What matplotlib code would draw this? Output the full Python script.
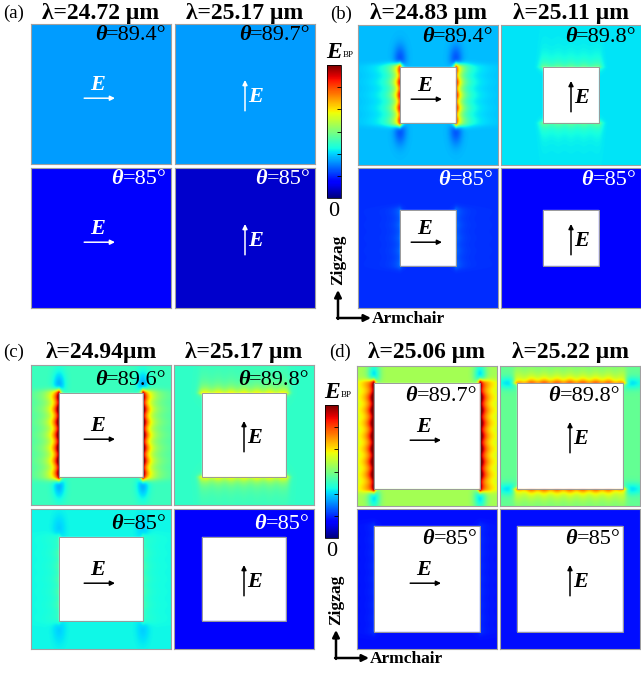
import matplotlib.pyplot as plt
import numpy as np
from matplotlib.patches import Rectangle
from matplotlib.cm import ScalarMappable
from matplotlib.colors import Normalize

plt.rcParams['font.family'] = 'Liberation Serif'

W, H = 641, 674

panel_tags = ["(a)", "(b)", "(c)", "(d)"]
wavelengths = [["λ=24.72 μm", "λ=25.17 μm"],
               ["λ=24.83 μm", "λ=25.11 μm"],
               ["λ=24.94μm", "λ=25.17 μm"],
               ["λ=25.06 μm", "λ=25.22 μm"]]
# cells in each panel: top-left, top-right, bottom-left, bottom-right
thetas = [["89.4", "89.7", "85", "85"],
          ["89.4", "89.8", "85", "85"],
          ["89.6", "89.8", "85", "85"],
          ["89.7", "89.8", "85", "85"]]

# |E| on a 0-1 scale: far-field level, gain at the hot faces, dip at the corners
background = [[0.28, 0.28, 0.11, 0.07],
              [0.31, 0.35, 0.17, 0.12],
              [0.42, 0.41, 0.37, 0.11],
              [0.55, 0.47, 0.14, 0.14]]
edge_gain = [[0.0, 0.0, 0.0, 0.0],
             [0.60, 0.12, 0.06, 0.0],
             [0.68, 0.24, 0.07, 0.0],
             [0.58, 0.34, 0.03, 0.0]]
corner_dip = [[0.0, 0.0, 0.0, 0.0],
              [0.10, 0.0, 0.0, 0.0],
              [0.12, 0.0, 0.04, 0.0],
              [0.20, 0.12, 0.0, 0.0]]
# side of the BP square relative to the unit cell
hole_size = [0.0, 0.4, 0.6, 0.76]

# white text on the dark cells
theta_white = [[False, False, True, True],
               [False, False, True, True],
               [False, False, False, True],
               [False, False, False, False]]
arrow_white = [True, False, False, False]

# layout in pixels: cell column lefts, row tops
cell = 140
col_x = [[31, 175], [358, 501], [31, 174], [357, 500]]
row_y = [[24, 168], [25, 168], [365, 509], [366, 509]]
title_y = [13, 14, 352, 352]
theta_pos = [(0.97, 0.92), (0.97, 0.91), (0.97, 0.89), (0.86, 0.78)]


def fx(x):
    return x / W


def fy(y):
    return 1 - y / H


def make_field(bg, gain, dip, half, hot_x, n=280):
    c = np.linspace(-1, 1, n)
    X, Y = np.meshgrid(c, c)
    A, B = (X, Y) if hot_x else (Y, X)
    s = np.abs(A) - half
    db = np.clip(np.abs(B) - half, 0, None)
    ripple = 1 + 0.1 * np.cos(B * 34)
    # strong decay away from the hot faces, fast fall-off past the corners
    prof = np.where(s >= 0,
                    0.7 * np.exp(-np.abs(s) / 0.07) + 0.3 * np.exp(-np.abs(s) / 0.22),
                    np.exp(-np.abs(s) / 0.03))
    hot = gain * prof * np.exp(-(db / 0.06) ** 2) * ripple
    cold = dip * np.exp(-s ** 2 / 0.008 - (np.abs(B) - half - 0.12) ** 2 / 0.04)
    Z = np.clip(bg + hot - cold, 0, 1)
    if half > 0:
        Z[(np.abs(X) < half) & (np.abs(Y) < half)] = np.nan
    return Z


cmap = plt.get_cmap('jet').copy()
cmap.set_bad('white')

fig = plt.figure(figsize=(W / 100, H / 100), dpi=100)

for p in range(4):
    half = hole_size[p]
    ink = 'white' if arrow_white[p] else 'black'
    for k in range(4):
        r, c = divmod(k, 2)
        x0, y0 = col_x[p][c], row_y[p][r]
        ax = fig.add_axes([fx(x0), fy(y0 + cell), cell / W, cell / H])
        Z = make_field(background[p][k], edge_gain[p][k], corner_dip[p][k], half, c == 0)
        ax.imshow(Z, cmap=cmap, vmin=0, vmax=1, extent=(-1, 1, -1, 1),
                  origin='lower', interpolation='bilinear')
        if half > 0:
            ax.add_patch(Rectangle((-half, -half), 2 * half, 2 * half, fill=False,
                                   ec='#9a9a9a', lw=0.7))
        ax.set_xticks([])
        ax.set_yticks([])
        for sp in ax.spines.values():
            sp.set_color('#a0a0a0')
            sp.set_linewidth(0.8)

        # angle label: bold italic theta followed by the value
        tcol = 'white' if theta_white[p][k] else 'black'
        tx, ty = theta_pos[p]
        val = ax.text(tx, ty, "=" + thetas[p][k] + "°", transform=ax.transAxes,
                      ha='right', va='center', fontsize=16, color=tcol)
        ax.annotate("θ", xy=(0, 0), xycoords=val, ha='right', va='bottom',
                    fontsize=16, fontweight='bold', fontstyle='italic', color=tcol)

        # polarization arrow
        aprops = dict(arrowstyle='-|>', color=ink, lw=1.1, mutation_scale=7,
                      shrinkA=0, shrinkB=0)
        if c == 0:
            ax.annotate('', xy=(0.6, 0.47), xytext=(0.38, 0.47),
                        xycoords='axes fraction', arrowprops=aprops)
            ax.text(0.475, 0.49, "E", transform=ax.transAxes, ha='center', va='bottom',
                    fontsize=16, fontweight='bold', fontstyle='italic', color=ink)
        else:
            ax.annotate('', xy=(0.5, 0.6), xytext=(0.5, 0.38),
                        xycoords='axes fraction', arrowprops=aprops)
            ax.text(0.52, 0.48, "E", transform=ax.transAxes, ha='left', va='center',
                    fontsize=16, fontweight='bold', fontstyle='italic', color=ink)

    # panel tag and wavelength headers
    fig.text(fx(col_x[p][0] - 17), fy(title_y[p]), panel_tags[p], ha='center',
             va='center', fontsize=13.5)
    for c in range(2):
        fig.text(fx(col_x[p][c] + cell / 2), fy(title_y[p]), wavelengths[p][c],
                 ha='center', va='center', fontsize=17, fontweight='bold')

# colour bars with the crystal axes below them
cbar_box = [(327, 65, 14, 133), (325, 405, 13, 133)]
for (bx, by, bw, bh) in cbar_box:
    cax = fig.add_axes([fx(bx), fy(by + bh), bw / W, bh / H])
    cb = fig.colorbar(ScalarMappable(norm=Normalize(0, 1), cmap='jet'), cax=cax)
    cb.outline.set_linewidth(0.6)
    cb.set_ticks(np.linspace(0, 1, 7)[1:-1])
    cax.tick_params(direction='in', length=3, width=0.6, labelright=False, right=True)
    fig.text(fx(bx - 1), fy(by - 13), "E", ha='left', va='center', fontsize=17,
             fontweight='bold', fontstyle='italic')
    fig.text(fx(bx + 16), fy(by - 10), "BP", ha='left', va='center', fontsize=6.5)
    fig.text(fx(bx + bw / 2), fy(by + bh + 13), "0", ha='center', va='center', fontsize=16)

    # Zigzag / Armchair directions
    ox, oy = bx + 11, by + bh + 120
    fig.text(fx(ox), fy(oy - 58), "Zigzag", rotation=90, ha='center', va='center',
             fontsize=12.5, fontweight='bold')
    arr = dict(arrowstyle='-|>', color='black', lw=1.8, mutation_scale=10,
               shrinkA=0, shrinkB=0)
    plt.annotate('', xy=(fx(ox), fy(oy - 28)), xytext=(fx(ox), fy(oy + 0.9)),
                 xycoords='figure fraction', arrowprops=arr)
    plt.annotate('', xy=(fx(ox + 33), fy(oy)), xytext=(fx(ox - 0.9), fy(oy)),
                 xycoords='figure fraction', arrowprops=arr)
    fig.text(fx(ox + 34), fy(oy + 1), "Armchair", ha='left', va='center',
             fontsize=12.5, fontweight='bold')

fig.savefig("out.png", dpi=100)
